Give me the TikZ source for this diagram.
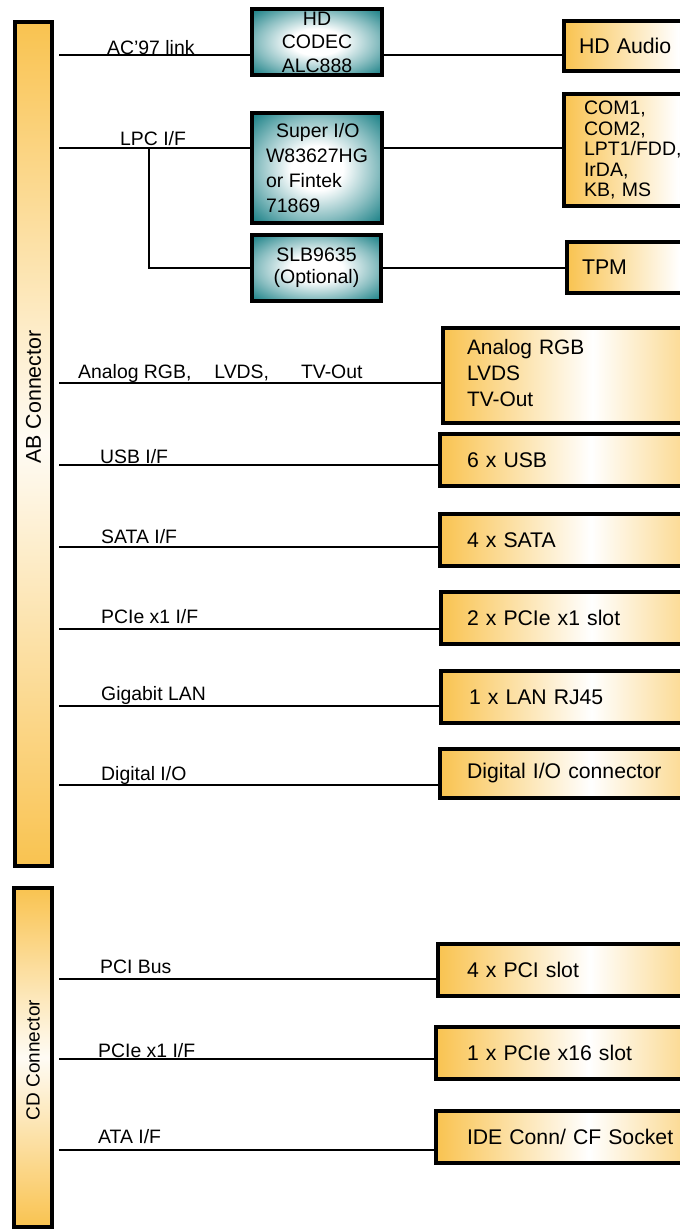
\documentclass[tikz,border=0pt]{standalone}
\usepackage{fontspec}
\setmainfont{Liberation Sans}
\definecolor{orng}{RGB}{249,195,80}
\definecolor{tealc}{RGB}{22,126,132}
\pgfdeclareradialshading{chipsh}{\pgfpoint{0bp}{0bp}}{color(0bp)=(white); color(10bp)=(white); color(23bp)=(white!50!tealc); color(35bp)=(tealc); color(50bp)=(tealc)}
\tikzset{
 bar/.style={draw=black, line width=4pt, top color=orng, bottom color=orng, middle color=white!94!orng, inner sep=0pt},
 chip/.style={draw=black, line width=4pt, shading=chipsh, inner sep=0pt, font=\fontsize{19.5}{24}\selectfont},
 obox/.style={draw=black, line width=4pt, left color=orng, right color=orng, middle color=white, anchor=north west, inner ysep=0pt, align=left, font=\fontsize{21.2}{26}\selectfont},
 conn/.style={line width=1.8pt, draw=black},
 lbl/.style={anchor=base west, inner sep=0pt, font=\fontsize{19.4}{23}\selectfont},
}
\begin{document}
\begin{tikzpicture}[x=1pt, y=-1pt]
\useasboundingbox (0,0) rectangle (680,1229);
\clip (0,0) rectangle (680,1229);
% connector bars
\node[bar, minimum width=37pt, minimum height=844pt] (ab) at (33.5,444) {};
\node[bar, minimum width=38pt, minimum height=339pt] (cd) at (33,1057.5) {};
\node[rotate=90, inner sep=0pt, font=\fontsize{21.4}{24}\selectfont] (abl) at (33.5,397) {AB Connector};
\node[rotate=90, inner sep=0pt, font=\fontsize{19}{22}\selectfont] (cdl) at (33,1060) {CD Connector};
% chips
\node[chip, minimum width=130pt, minimum height=66pt, align=center, font=\fontsize{19.5}{23.5}\selectfont] (codec) at (317,42) {HD\\CODEC\\ALC888};
\node[chip, minimum width=130pt, minimum height=110pt, align=left, font=\fontsize{19.5}{24.7}\selectfont] (sio) at (317,168) {\hspace*{10pt}Super I/O\\W83627HG\\or Fintek\\71869};
\node[chip, minimum width=129pt, minimum height=66pt, align=center, font=\fontsize{19.5}{22}\selectfont] (slb) at (316.5,268) {SLB9635\\(Optional)};
% right boxes
\node[obox, minimum height=50pt, inner xsep=15pt, text width=198pt, font=\fontsize{21.3}{24}\selectfont] (hda) at (562,19) {HD Audio};
\node[obox, minimum height=112pt, inner xsep=20pt, text width=188pt, font=\fontsize{19.5}{20.5}\selectfont] (com) at (562,92) {COM1,\\COM2,\\LPT1/FDD,\\IrDA,\\KB, MS};
\node[obox, minimum height=51pt, inner xsep=15pt, text width=195pt, font=\fontsize{21.3}{24}\selectfont] (tpm) at (565,240) {TPM};
\node[obox, minimum height=95pt, inner xsep=24pt, text width=251pt, font=\fontsize{20.9}{26}\selectfont] (ana) at (441,326) {Analog RGB\\LVDS\\TV-Out\vspace*{5pt}};
\node[obox, minimum height=52pt, inner xsep=27pt, text width=248pt] (usb) at (438,432) {6 x USB};
\node[obox, minimum height=52pt, inner xsep=27pt, text width=248pt] (sata) at (438,512) {4 x SATA};
\node[obox, minimum height=52pt, inner xsep=26pt, text width=249pt] (pcie) at (439,590) {2 x PCIe x1 slot};
\node[obox, minimum height=52pt, inner xsep=28pt, text width=245pt] (lan) at (439,669) {1 x LAN RJ45};
\node[obox, minimum height=49pt, inner xsep=27pt, text width=248pt] (dio) at (438,747) {Digital I/O connector};
\node[obox, minimum height=52pt, inner xsep=29pt, text width=246pt] (pci) at (436,942) {4 x PCI slot};
\node[obox, minimum height=52pt, inner xsep=31pt, text width=244pt] (pcix) at (434,1025) {1 x PCIe x16 slot};
\node[obox, minimum height=52pt, inner xsep=31pt, text width=244pt] (ide) at (434,1109) {IDE Conn/ CF Socket};
% line heights
\coordinate (y-ac) at (0,55);
\coordinate (y-lpc) at (0,148);
\coordinate (y-ana) at (0,383);
\coordinate (y-usb) at (0,465);
\coordinate (y-sata) at (0,547);
\coordinate (y-pcie) at (0,629);
\coordinate (y-lan) at (0,706);
\coordinate (y-dio) at (0,785);
\coordinate (y-pci) at (0,979);
\coordinate (y-pcix) at (0,1059);
\coordinate (y-ide) at (0,1150);
\coordinate (tee) at (149,148);
% connectors
\draw[conn] ([xshift=5pt]ab.east |- y-ac) -- (codec.west |- y-ac);
\draw[conn] (codec.east |- y-ac) -- (hda.west |- y-ac);
\draw[conn] ([xshift=5pt]ab.east |- y-lpc) -- (sio.west |- y-lpc);
\draw[conn] (sio.east |- y-lpc) -- (com.west |- y-lpc);
\draw[conn] (tee) |- (slb.west);
\draw[conn] (slb.east) -- (tpm.west |- slb.east);
\draw[conn] ([xshift=5pt]ab.east |- y-ana) -- (ana.west |- y-ana);
\draw[conn] ([xshift=5pt]ab.east |- y-usb) -- (usb.west |- y-usb);
\draw[conn] ([xshift=5pt]ab.east |- y-sata) -- (sata.west |- y-sata);
\draw[conn] ([xshift=5pt]ab.east |- y-pcie) -- (pcie.west |- y-pcie);
\draw[conn] ([xshift=5pt]ab.east |- y-lan) -- (lan.west |- y-lan);
\draw[conn] ([xshift=5pt]ab.east |- y-dio) -- (dio.west |- y-dio);
\draw[conn] ([xshift=5pt]cd.east |- y-pci) -- (pci.west |- y-pci);
\draw[conn] ([xshift=5pt]cd.east |- y-pcix) -- (pcix.west |- y-pcix);
\draw[conn] ([xshift=5pt]cd.east |- y-ide) -- (ide.west |- y-ide);
% labels
\node[lbl] (t-ac) at (107,54) {AC’97 link};
\node[lbl] (t-lpc) at (120,145) {LPC I/F};
\node[lbl] (t-ana) at (78,378) {Analog RGB,\hspace{23pt}LVDS,\hspace{32pt}TV-Out};
\node[lbl] (t-usb) at (100,463) {USB I/F};
\node[lbl] (t-sata) at (101,543) {SATA I/F};
\node[lbl] (t-pcie) at (101,623) {PCIe x1 I/F};
\node[lbl] (t-lan) at (101,700) {Gigabit LAN};
\node[lbl] (t-dio) at (101,780) {Digital I/O};
\node[lbl] (t-pci) at (100,973) {PCI Bus};
\node[lbl] (t-pcix) at (98,1057) {PCIe x1 I/F};
\node[lbl] (t-ide) at (98,1143) {ATA I/F};
\end{tikzpicture}
\end{document}
